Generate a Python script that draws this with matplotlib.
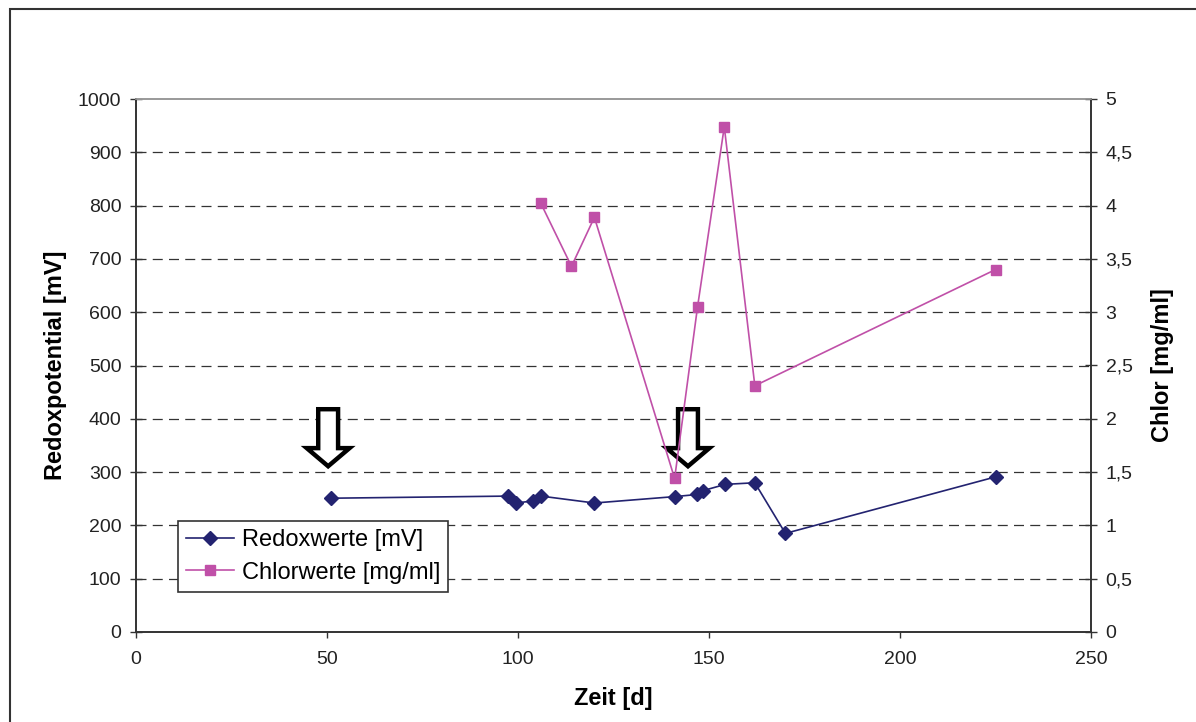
import matplotlib.pyplot as plt
from matplotlib.patches import Polygon, Rectangle
from matplotlib.ticker import FuncFormatter

plt.rcParams['font.family'] = ['Liberation Sans', 'DejaVu Sans']

# Messwerte
days_redox = [51, 97.5, 99.5, 104, 106, 120, 141, 146.9, 148.3, 154.3, 162, 170, 225]
redox_mv = [251, 255, 242, 246, 255, 242, 254, 258, 265, 277, 280, 185, 291]

days_chlor = [106, 114, 120, 141, 147, 154, 162, 225]
chlor_mg = [4.02, 3.43, 3.89, 1.44, 3.05, 4.74, 2.31, 3.40]

# Zeitpunkte der Behandlung (Pfeile)
arrow_days = [50.3, 144.5]

C_REDOX = '#232370'
C_CHLOR = '#C050A8'
AX_COL = '#333333'

fig = plt.figure(figsize=(11.96, 7.22), dpi=100)
ax = fig.add_axes([136 / 1196, 1 - 632 / 722, (1091 - 136) / 1196, (632 - 99) / 722])
ax2 = ax.twinx()

# Rahmen um die Grafik
fig.patches.append(Rectangle((10 / 1196, -0.2), 1.5, 1.2 - 9 / 722, transform=fig.transFigure,
                             fill=False, ec=AX_COL, lw=1.5))

ax.set_xlim(0, 250)
ax.set_ylim(0, 1000)
ax2.set_ylim(0, 5)
ax.set_xticks(range(0, 251, 50))
ax.set_yticks(range(0, 1001, 100))
ax2.set_yticks([i * 0.5 for i in range(11)])

for y in range(100, 1000, 100):
    ax.axhline(y, color=AX_COL, lw=0.9, dashes=(8, 5), zorder=0)

ln1, = ax2.plot(days_redox, [v / 200 for v in redox_mv], color=C_REDOX, lw=1.2,
                marker='D', ms=7.5, label='Redoxwerte [mV]')
ln2, = ax2.plot(days_chlor, chlor_mg, color=C_CHLOR, lw=1.2,
                marker='s', ms=7, label='Chlorwerte [mg/ml]')

# hohle Pfeile
for d in arrow_days:
    sw, hw = 2.6, 5.6
    top, neck, tip = 418, 345, 311
    pts = [(d - sw, top), (d + sw, top), (d + sw, neck), (d + hw, neck),
           (d, tip), (d - hw, neck), (d - sw, neck)]
    ax.add_patch(Polygon(pts, closed=True, fc='white', ec='black', lw=3.2, zorder=5))

for a in (ax, ax2):
    for s in a.spines.values():
        s.set_color(AX_COL)
        s.set_linewidth(1.2)
    a.spines['top'].set_color('#999999')

ax.tick_params(axis='y', direction='inout', length=9, width=1, colors=AX_COL,
               labelcolor='#222222', labelsize=14, pad=6)
ax.tick_params(axis='x', direction='out', length=4.5, width=1, colors=AX_COL,
               labelcolor='#222222', labelsize=14, pad=9)
ax2.tick_params(axis='y', direction='inout', length=9, width=1, colors=AX_COL,
                labelcolor='#222222', labelsize=14, pad=6)
ax2.yaxis.set_major_formatter(FuncFormatter(lambda v, p: f'{v:g}'.replace('.', ',')))

ax.set_xlabel('Zeit [d]', fontsize=17, fontweight='bold', labelpad=14)
ax.set_ylabel('Redoxpotential [mV]', fontsize=17, fontweight='bold', labelpad=8)
ax2.set_ylabel('Chlor [mg/ml]', fontsize=17, fontweight='bold', labelpad=13)

leg = ax2.legend(handles=[ln1, ln2], loc='lower left', bbox_to_anchor=(0.044, 0.075),
                 borderaxespad=0, fontsize=17, fancybox=False, framealpha=1,
                 edgecolor=AX_COL, handlelength=2.0, handletextpad=0.35,
                 labelspacing=0.45, borderpad=0.35)
leg.get_frame().set_linewidth(1.2)

fig.savefig('out.png', dpi=100)
